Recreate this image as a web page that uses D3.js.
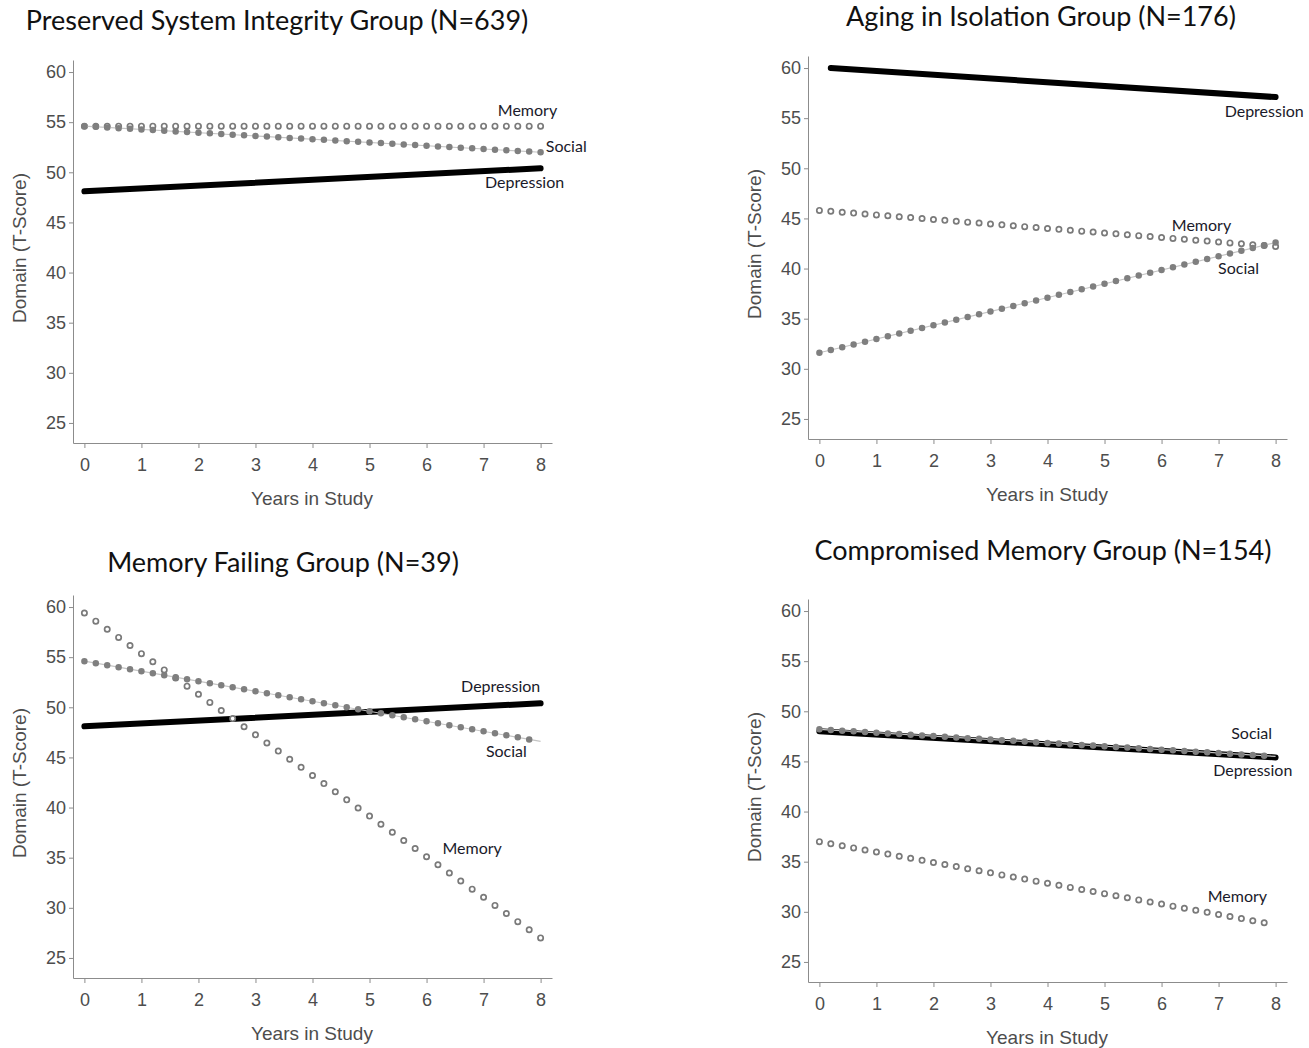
<!DOCTYPE html>
<html>
<head>
<meta charset="utf-8">
<script src="https://cdn.jsdelivr.net/npm/d3@7"></script>
<style>
  body { margin: 0; background: #fff; }
  .axis path, .axis line { stroke: #8c8c8c; }
  .axis text { font-family: "Liberation Sans", Arial, sans-serif; font-size: 18px; fill: #4d4d4d; }
  .title { font-family: Lato, "Open Sans", sans-serif; font-size: 27px; fill: #111; }
  .axis-label { font-family: "Liberation Sans", Arial, sans-serif; font-size: 19px; fill: #4d4d4d; }
  .line-label { font-family: Lato, "Open Sans", sans-serif; font-size: 16px; fill: #1a1a2a; }
</style>
</head>
<body>
<div id="chart"></div>
<script>
// panel titles
const titles = [
  'Preserved System Integrity Group (N=639)',
  'Aging in Isolation Group (N=176)',
  'Memory Failing Group (N=39)',
  'Compromised Memory Group (N=154)'
];

// fitted trend endpoints per panel: [year, T-score]
const depression = [
  [[0, 48.1], [8, 50.4]],
  [[0.2, 60.0], [8, 57.1]],
  [[0, 48.1], [8, 50.4]],
  [[0, 48.0], [8, 45.4]]
];
const memory = [
  [[0, 54.6], [8, 54.6]],
  [[0, 45.8], [8, 42.2]],
  [[0, 59.4], [8, 27.0]],
  [[0, 37.0], [8, 28.7]]
];
const social = [
  [[0, 54.6], [8, 52.0]],
  [[0, 31.6], [8, 42.6]],
  [[0, 54.6], [8, 46.6]],
  [[0, 48.2], [8, 45.5]]
];

// label anchor points (year, T-score) per panel
const labels = [
  [['Memory', 7.77, 56.0], ['Social', 8.45, 52.4], ['Depression', 7.72, 48.8]],
  [['Depression', 7.8, 55.5], ['Memory', 6.7, 44.1], ['Social', 7.35, 39.9]],
  [['Depression', 7.3, 51.9], ['Social', 7.4, 45.4], ['Memory', 6.8, 35.8]],
  [['Social', 7.58, 47.6], ['Depression', 7.6, 43.9], ['Memory', 7.33, 31.4]]
];

const xTicks = d3.range(0, 9);
const yTicks = [25, 30, 35, 40, 45, 50, 55, 60];

const offsets = [[0, 0], [735, -4], [0, 535], [735, 539]];
const titlePos = [[277, 30], [1041, 26], [283, 572], [1043, 560]];

const svg = d3.select('#chart').append('svg')
  .attr('width', 1309)
  .attr('height', 1048);

const x = d3.scaleLinear().domain([-0.2, 8.2]).range([73, 552]);
const y = d3.scaleLinear().domain([23, 61.2]).range([443, 60]);
const line = d3.line().x(d => x(d[0])).y(d => y(d[1]));

// dots every 0.2 years along the trend: spacing set from the path length
function dotted(sel, n) {
  sel.each(function() {
    const len = this.getTotalLength();
    d3.select(this).attr('stroke-dasharray', `0 ${len / n}`);
  });
}

titles.forEach((t, i) => {
  svg.append('text')
    .attr('class', 'title')
    .attr('x', titlePos[i][0])
    .attr('y', titlePos[i][1])
    .attr('text-anchor', 'middle')
    .text(t);

  const g = svg.append('g')
    .attr('transform', `translate(${offsets[i][0]}, ${offsets[i][1]})`);

  g.append('g')
    .attr('class', 'axis')
    .attr('transform', 'translate(73, 0)')
    .call(d3.axisLeft(y).tickValues(yTicks).tickSize(4).tickSizeOuter(0).tickPadding(3));

  g.append('g')
    .attr('class', 'axis')
    .attr('transform', 'translate(0, 443)')
    .call(d3.axisBottom(x).tickValues(xTicks).tickSize(5).tickSizeOuter(0).tickPadding(10));

  g.append('text')
    .attr('class', 'axis-label')
    .attr('transform', 'translate(26, 248) rotate(-90)')
    .attr('text-anchor', 'middle')
    .text('Domain (T-Score)');

  g.append('text')
    .attr('class', 'axis-label')
    .attr('x', 312)
    .attr('y', 505)
    .attr('text-anchor', 'middle')
    .text('Years in Study');

  // depression: thick black
  g.append('path')
    .attr('d', line(depression[i]))
    .attr('fill', 'none')
    .attr('stroke', '#000')
    .attr('stroke-width', 6)
    .attr('stroke-linecap', 'round');

  // memory: hollow circles
  g.append('path')
    .attr('d', line(memory[i]))
    .attr('fill', 'none')
    .attr('stroke', '#7a7a7a')
    .attr('stroke-width', 7)
    .attr('stroke-linecap', 'round')
    .call(dotted, 40);
  g.append('path')
    .attr('d', line(memory[i]))
    .attr('fill', 'none')
    .attr('stroke', '#fff')
    .attr('stroke-width', 3.6)
    .attr('stroke-linecap', 'round')
    .call(dotted, 40);

  // social: thin line with filled grey dots
  g.append('path')
    .attr('d', line(social[i]))
    .attr('fill', 'none')
    .attr('stroke', '#c4c4c4')
    .attr('stroke-width', 1.2);
  g.append('path')
    .attr('d', line(social[i]))
    .attr('fill', 'none')
    .attr('stroke', '#7f7f7f')
    .attr('stroke-width', 6.5)
    .attr('stroke-linecap', 'round')
    .call(dotted, 40);

  g.selectAll('.line-label')
    .data(labels[i])
    .enter()
    .append('text')
    .attr('class', 'line-label')
    .attr('x', d => x(d[1]))
    .attr('y', d => y(d[2]))
    .attr('text-anchor', 'middle')
    .attr('dominant-baseline', 'middle')
    .text(d => d[0]);
});
</script>
</body>
</html>
